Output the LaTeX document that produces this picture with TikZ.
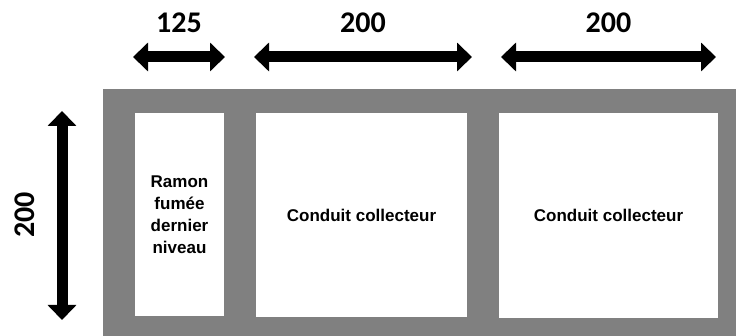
\documentclass[tikz,border=0pt]{standalone}
\usepackage{fontspec}
\setmainfont{Liberation Sans}
\newfontfamily\numfont{Carlito}
\usetikzlibrary{arrows.meta}
\definecolor{WallGray}{RGB}{128,128,128}

\begin{document}
\begin{tikzpicture}[x=1pt,y=-1pt,
    cote/.style={line width=11pt,{Triangle[length=15pt,width=28pt]}-{Triangle[length=15pt,width=28pt]}},
    num/.style={font=\numfont\bfseries\fontsize{30}{34}\selectfont,inner sep=0pt},
    conduit/.style={fill=white,inner sep=0pt,align=center,font=\bfseries\fontsize{17}{22}\selectfont}]
            \useasboundingbox (0,0) rectangle (736,336);
            \fill[WallGray] (103,89) rectangle (736,336);
            % conduits
            \node[conduit,minimum width=89pt,minimum height=203pt] (ramon) at (179.5,214.5) {Ramon\\fumée\\dernier\\niveau};
            \node[conduit,minimum width=211pt,minimum height=204pt] (coll1) at (361.5,215) {Conduit collecteur};
            \node[conduit,minimum width=219pt,minimum height=205pt] (coll2) at (608.5,215.5) {Conduit collecteur};
            % cotes
            \foreach \name/\xa/\xb/\val in {a/133/225/125, b/254/472/200, c/501/716/200} {
                \coordinate (\name L) at (\xa,57);
                \coordinate (\name R) at (\xb,57);
                \draw[cote] (\name L) -- (\name R);
                \node[num] (\name num) at ({(\xa+\xb)/2},23) {\val};
            }
            \coordinate (hT) at (62,111);
            \coordinate (hB) at (62,320);
            \draw[cote] (hT) -- (hB);
            \node[num,rotate=90] (hnum) at (25,215) {200};
        \end{tikzpicture}
\end{document}
